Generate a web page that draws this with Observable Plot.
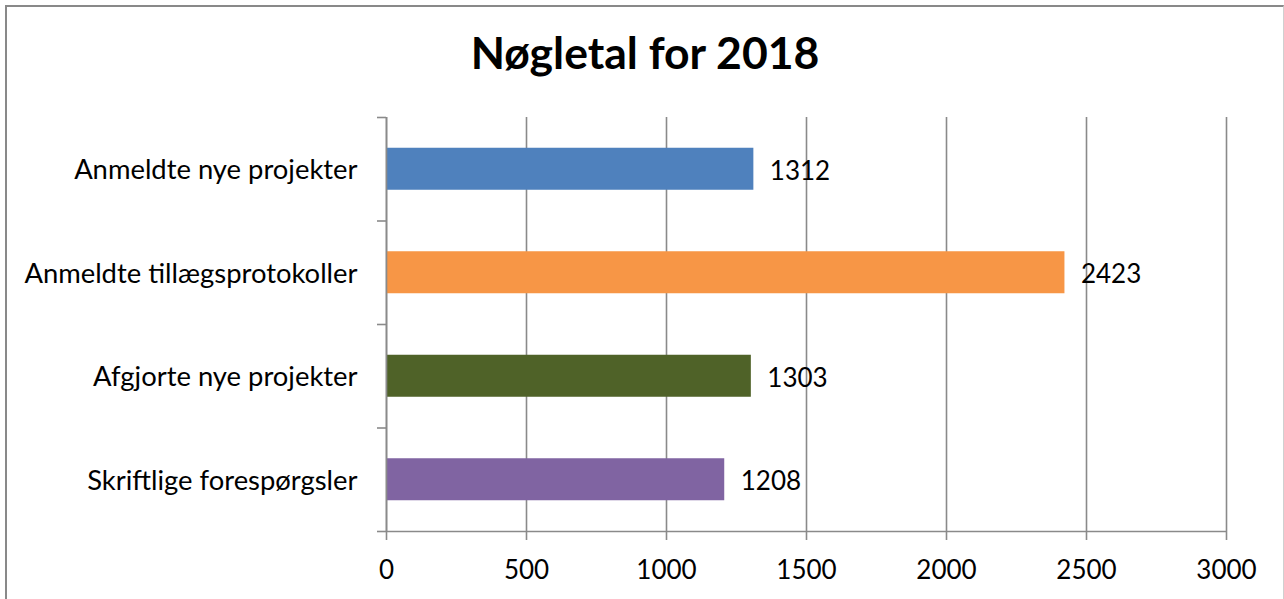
<!DOCTYPE html>
<html>
<head>
<meta charset="utf-8">
<script src="https://cdn.jsdelivr.net/npm/d3@7"></script>
<script src="https://cdn.jsdelivr.net/npm/@observablehq/plot@0.6"></script>
<style>
  html, body { margin: 0; padding: 0; background: #fff; }
  #wrap { position: relative; width: 1284px; height: 599px; overflow: hidden; background: #fff; }
  #frame { position: absolute; left: 5px; top: 5px; width: 1276px; height: 620px;
           border-top: 2px solid #898989; border-left: 2px solid #898989; border-right: 1px solid #d0d0d0; }
  #title { position: absolute; left: 0; width: 1290px; top: 25px; text-align: center;
           font-family: Lato, "Open Sans", sans-serif; font-weight: bold; font-size: 44.5px; color: #000; line-height: 1.2; }
  #chart { position: absolute; left: 0; top: 0; }
</style>
</head>
<body>
<div id="wrap">
  <div id="frame"></div>
  <div id="title">Nøgletal for 2018</div>
  <div id="chart"></div>
</div>
<script>
const categories = ["Anmeldte nye projekter", "Anmeldte tillægsprotokoller", "Afgjorte nye projekter", "Skriftlige forespørgsler"];
const values = [1312, 2423, 1303, 1208];
const colors = ["#4F81BD", "#F79646", "#4F6228", "#8064A2"];
const xTicks = [0, 500, 1000, 1500, 2000, 2500, 3000];

const n = categories.length;
const rows = categories.map((c, i) => ({
  category: c,
  value: values[i],
  color: colors[i],
  lo: n - 1 - i,
  hi: n - i,
  mid: n - i - 0.5
}));
const bounds = d3.range(n + 1);

const font = "Lato, 'Open Sans', sans-serif";
const fs = 26;
const fsLabel = 27.4;
const grid = "#8a8a8a";

const plot = Plot.plot({
  width: 1284,
  height: 599,
  marginLeft: 386,
  marginRight: 58,
  marginTop: 117,
  marginBottom: 68,
  style: { fontFamily: font, fontSize: fs + "px", color: "#000", background: "transparent" },
  x: { domain: [0, 3000] },
  y: { domain: [0, n] },
  marks: [
    Plot.gridX(xTicks, { stroke: grid, strokeOpacity: 1, strokeWidth: 1.6 }),
    Plot.rectX(rows, { x1: 0, x2: "value", y1: "lo", y2: "hi", fill: "color", insetTop: 30.75, insetBottom: 30.75 }),
    Plot.ruleX([0], { stroke: grid, strokeWidth: 1.6 }),
    Plot.ruleY([0], { stroke: grid, strokeWidth: 1.6 }),
    Plot.axisX(xTicks, { tickSize: 9, tickPadding: 20, stroke: grid, strokeWidth: 1.6, fontSize: fs, fill: "#000", label: null, tickFormat: d => String(d) }),
    Plot.axisY(bounds, { tickSize: 9, stroke: grid, strokeWidth: 1.6, tickFormat: () => "", label: null }),
    Plot.text(rows, { x: 0, y: "mid", text: "category", dx: -29, dy: 1, textAnchor: "end", fontSize: fsLabel, fill: "#000" }),
    Plot.text(rows, { x: "value", y: "mid", text: d => String(d.value), dx: 16, dy: 2, textAnchor: "start", fontSize: fs, fill: "#000" })
  ]
});
document.getElementById("chart").appendChild(plot);
</script>
</body>
</html>
